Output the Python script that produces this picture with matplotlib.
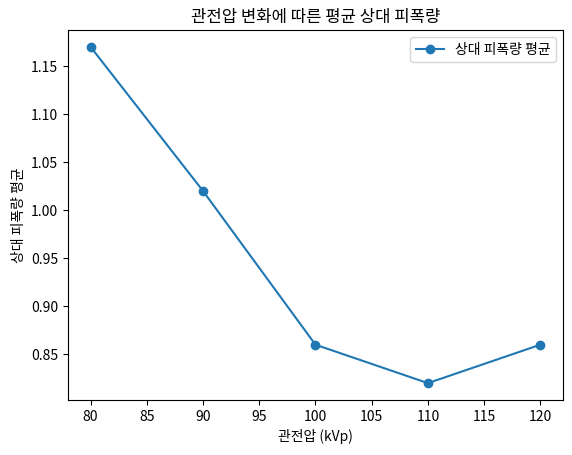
import matplotlib
matplotlib.use('Agg')
import matplotlib.pyplot as plt

plt.rcParams['font.family'] = ['Noto Sans CJK KR', 'DejaVu Sans']

kvp = [80, 90, 100, 110, 120]
dose = [1.17, 1.02, 0.86, 0.82, 0.86]

fig, ax = plt.subplots(figsize=(5.72, 4.55), dpi=100)
ax.plot(kvp, dose, marker='o', label='상대 피폭량 평균')
ax.set_title('관전압 변화에 따른 평균 상대 피폭량')
ax.set_xlabel('관전압 (kVp)')
ax.set_ylabel('상대 피폭량 평균')
ax.legend()
fig.subplots_adjust(left=0.119, right=0.984, top=0.934, bottom=0.121)
fig.savefig('out.png')
